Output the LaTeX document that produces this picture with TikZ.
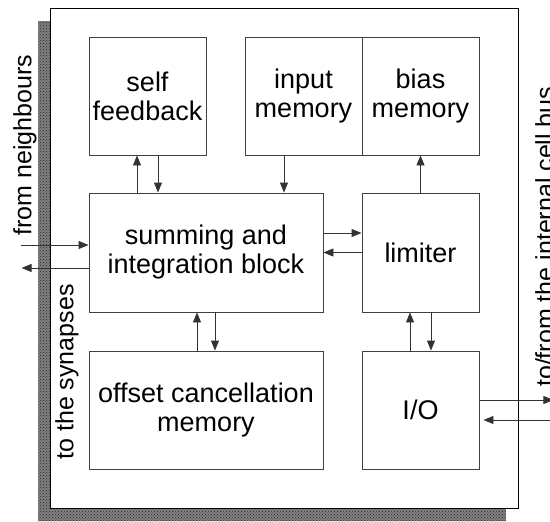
\documentclass[tikz,border=0pt]{standalone}
\usepackage{fontspec}
\setmainfont{Liberation Sans}
\usetikzlibrary{arrows.meta,patterns}

\begin{document}
\begin{tikzpicture}[x=1pt,y=-1pt,
  blk/.style={draw=black!75,line width=0.9pt,fill=white,minimum width=117pt,
    minimum height=118pt,inner sep=0pt,align=center,
    font=\fontsize{27}{29}\selectfont},
  wide/.style={blk,minimum width=234pt},
  arr/.style={-{Triangle[length=10pt,width=8pt]},line width=0.9pt,draw=black!80},
  lbl/.style={font=\fontsize{25}{27}\selectfont,rotate=90,inner sep=0pt}]
\useasboundingbox (0,0) rectangle (550,522);

% shadow of the cell and the cell frame
\fill[black!50] (38,21) rectangle (506,521);
\fill[pattern=crosshatch dots,pattern color=black!85] (38,21) rectangle (506,521);
\node[draw=black,line width=1pt,fill=white,minimum width=468pt,minimum height=500pt,
  inner sep=0pt] (cell) at (284,258) {};

% functional blocks
\node[blk] (self) at (147.5,96) {self\\feedback};
\node[blk] (input) at (303.5,96) {input\\memory};
\node[blk] (bias) at (420.5,96) {bias\\memory};
\node[wide,minimum height=119pt] (sum) at (206,252.5) {summing and\\integration block};
\node[blk,minimum height=119pt] (lim) at (420.5,252.5) {limiter};
\node[wide] (off) at (206,410) {offset cancellation\\memory};
\node[blk] (io) at (420.5,410) {I/O};

% side labels
\node[lbl,anchor=north] (fromn) at (13,145) {from neighbours};
\node[lbl,anchor=north] (tosyn) at (55,372) {to the synapses};
\node[lbl,anchor=north west] (bus) at (535,387) {to/from the internal cell bus};

% self feedback <-> summing
\coordinate (sf1) at ([xshift=-10.5pt]self.south);
\coordinate (sf2) at ([xshift=10.5pt]self.south);
\draw[arr] (sf1 |- sum.north) -- (sf1);
\draw[arr] (sf2) -- (sf2 |- sum.north);

% input memory -> summing, limiter -> bias memory
\coordinate (im) at ([xshift=-19.5pt]input.south);
\draw[arr] (im) -- (im |- sum.north);
\draw[arr] (lim.north) -- (bias.south);

% summing <-> limiter
\coordinate (sl1) at ([yshift=19.5pt]sum.east);
\coordinate (sl2) at (lim.west);
\draw[arr] (sl1) -- (sl1 -| lim.west);
\draw[arr] (sl2) -- (sl2 -| sum.east);

% summing <-> offset cancellation
\coordinate (so1) at ([xshift=-9pt]sum.south);
\coordinate (so2) at ([xshift=9pt]sum.south);
\draw[arr] (so1 |- off.north) -- (so1);
\draw[arr] (so2) -- (so2 |- off.north);

% limiter <-> I/O
\coordinate (li1) at ([xshift=-10.5pt]lim.south);
\coordinate (li2) at ([xshift=10.5pt]lim.south);
\draw[arr] (li1 |- io.north) -- (li1);
\draw[arr] (li2) -- (li2 |- io.north);

% neighbours and synapses
\coordinate (fn) at ([yshift=7.5pt]sum.west);
\coordinate (fnsrc) at ([xshift=-68pt]fn);
\draw[arr] (fnsrc) -- (fn);
\coordinate (ts) at ([yshift=-15.5pt]sum.west);
\coordinate (tsdst) at ([xshift=-67pt]ts);
\draw[arr] (ts) -- (tsdst);

% internal cell bus
\coordinate (bo) at ([yshift=10pt]io.east);
\coordinate (busout) at ([xshift=74pt]bo);
\draw[arr] (bo) -- (busout);
\coordinate (bi) at ([yshift=-10pt]io.east);
\coordinate (busin) at ([xshift=74pt]bi);
\draw[arr,shorten >=4pt] (busin) -- (bi);
\end{tikzpicture}
\end{document}
